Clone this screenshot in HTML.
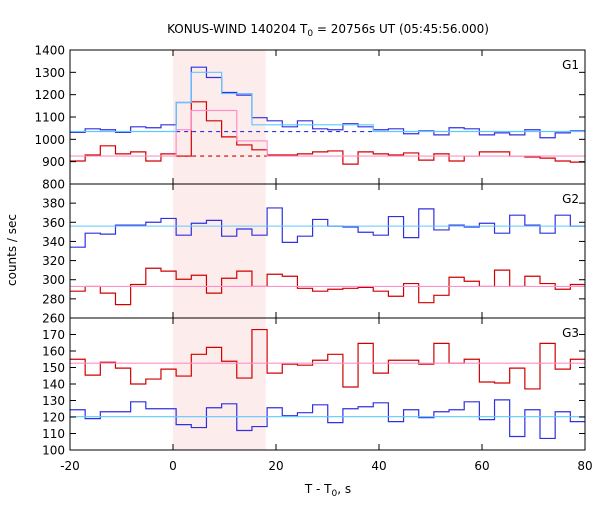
<!DOCTYPE html>
<html><head><meta charset="utf-8"><style>
body{margin:0;background:#fff}
svg{font-family:"DejaVu Sans","Liberation Sans",sans-serif;font-size:12px}
</style></head><body>
<svg id="c" width="600" height="500">
<text x="328" y="33" text-anchor="middle" font-size="12">KONUS-WIND 140204 T<tspan font-size="9" dy="3">0</tspan><tspan dy="-3"> = 20756s UT (05:45:56.000)</tspan></text>
<text transform="translate(16,250) rotate(-90)" text-anchor="middle">counts / sec</text>
<text x="328" y="493" text-anchor="middle">T - T<tspan font-size="9" dy="3">0</tspan><tspan dy="-3">, s</tspan></text>
</svg>
<script>
const binStart=-20, binWidth=2.944;
const g1Blue=[1031,1047,1043,1031,1056,1052,1065,1165,1323,1277,1210,1198,1097,1083,1056,1083,1047,1043,1070,1056,1043,1047,1025,1038,1020,1052,1047,1020,1029,1020,1043,1007,1029,1038];
const g1BlueFit=[1035,1035,1035,1035,1035,1035,1035,1165,1300,1300,1205,1205,1065,1065,1065,1065,1065,1065,1065,1065,1035,1035,1035,1035,1035,1035,1035,1035,1035,1035,1035,1035,1035,1035];
const g1Red=[903,930,971,935,944,903,935,925,1168,1083,1011,975,953,930,930,935,944,948,889,944,935,930,939,907,935,903,925,944,944,925,921,916,903,898];
const g1RedFit=[925,925,925,925,925,925,925,1043,1129,1129,1129,993,993,925,925,925,925,925,925,925,925,925,925,925,925,925,925,925,925,925,925,925,925,925];
const g2Blue=[334,348.6,347.6,357,357,360,364,346.5,359,362,345.5,353,346.5,375,339,345.5,363,356,355,349.6,346.5,366,344,374,352,357,355,359,348.6,367.4,357,348.6,367.4,356];
const g2Red=[288,293,286,274,295,312,309,300.5,304.7,286,301.5,309,293,305.7,303.6,291,288,290,291,292,288,282.7,296,276,283.7,302.6,298.4,293,310,293,303.6,296,290,295];
const g3Red=[155,145.4,153.2,149.6,140,143,149,144.8,158,162.2,153.8,143.6,173,146.6,152,151.4,154.4,158,138.2,164.6,146.6,154.4,154.4,152,164.6,152.6,155,141.2,140.6,149.6,137,164.6,149,155];
const g3Blue=[124.4,119,123.2,123.2,129.2,125,125,115.4,113.6,125.6,128,111.8,114.2,125.6,120.8,122.6,127.4,116.6,125,126.2,128.6,117.2,124.4,119.6,123.2,124.4,129.2,118.4,130.4,108.2,124.4,107,123.2,117.2];
const g2BlueBg=356, g2RedBg=293, g3RedBg=152.6, g3BlueBg=120.2;
const xTicks=[-20,0,20,40,60,80];
const g1Ticks=[800,900,1000,1100,1200,1300,1400];
const g2Ticks=[260,280,300,320,340,360,380];
const g3Ticks=[100,110,120,130,140,150,160,170];
const shadeFrom=0, shadeTo=18;

const svg=document.getElementById('c'), NS='http://www.w3.org/2000/svg';
const L=70,R=585,xmin=-20,xmax=80;
const X=v=>L+(v-xmin)/(xmax-xmin)*(R-L);
function el(t,a,p){const e=document.createElementNS(NS,t);for(const k in a)e.setAttribute(k,a[k]);(p||svg).appendChild(e);return e;}
const panels=[
 {name:'g1',top:50,bot:184,lo:800,hi:1400,ticks:g1Ticks,label:'G1'},
 {name:'g2',top:184,bot:318,lo:260,hi:400,ticks:g2Ticks,label:'G2'},
 {name:'g3',top:318,bot:450,lo:100,hi:180,ticks:g3Ticks,label:'G3'}];
panels.forEach(p=>p.Y=v=>p.bot-(v-p.lo)/(p.hi-p.lo)*(p.bot-p.top));
const sh=el('rect',{x:X(shadeFrom),y:50,width:X(shadeTo)-X(shadeFrom),height:400,fill:'#fdecec'});


function step(p,arr,color,name){
  let d='';arr.forEach((v,i)=>{const x0=X(binStart+i*binWidth),x1=Math.min(R,X(binStart+(i+1)*binWidth)),y=p.Y(v);d+=(i?'L':'M')+x0+','+y+'L'+x1+','+y;});
  const e=el('path',{d:d,fill:'none',stroke:color,'stroke-width':1.2});
  
  
}
function hline(p,v,color,name,x0,x1,dash){
  const e=el('line',{x1:X(x0),x2:X(x1),y1:p.Y(v),y2:p.Y(v),stroke:color,'stroke-width':1.1});
  if(dash)e.setAttribute('stroke-dasharray','4,4');
  
  
}
const [P1,P2,P3]=panels;
hline(P1,1035,'#3030e0','g1-blue-background',binStart+7*binWidth,binStart+20*binWidth,true);
hline(P1,925,'#d00000','g1-red-background',binStart+7*binWidth,binStart+13*binWidth,true);
step(P1,g1Red,'#d00000','g1-red-series');
step(P1,g1RedFit,'#ff90c8','g1-red-model');
step(P1,g1Blue,'#3030e0','g1-blue-series');
step(P1,g1BlueFit,'#60c8ff','g1-blue-model');
step(P2,g2Blue,'#3030e0','g2-blue-series');
step(P2,g2Red,'#d00000','g2-red-series');
hline(P2,g2BlueBg,'#60c8ff','g2-blue-background',xmin,xmax);
hline(P2,g2RedBg,'#ff90c8','g2-red-background',xmin,xmax);
step(P3,g3Red,'#d00000','g3-red-series');
step(P3,g3Blue,'#3030e0','g3-blue-series');
hline(P3,g3RedBg,'#ff90c8','g3-red-background',xmin,xmax);
hline(P3,g3BlueBg,'#60c8ff','g3-blue-background',xmin,xmax);
panels.forEach(p=>{
  const f=el('rect',{x:L,y:p.top,width:R-L,height:p.bot-p.top,fill:'none',stroke:'#000','stroke-width':1});
  
  
  p.ticks.forEach(t=>{
    const y=p.Y(t);
    el('line',{x1:L,x2:L+6,y1:y,y2:y,stroke:'#000'});el('line',{x1:R-6,x2:R,y1:y,y2:y,stroke:'#000'});
    const tx=el('text',{x:L-5,y:y+4.5,'text-anchor':'end'});tx.textContent=t;
    
    
  });
  xTicks.forEach(t=>{el('line',{x1:X(t),x2:X(t),y1:p.top,y2:p.top+6,stroke:'#000'});el('line',{x1:X(t),x2:X(t),y1:p.bot-6,y2:p.bot,stroke:'#000'});});
  const lb=el('text',{x:R-6,y:p.top+19,'text-anchor':'end'});lb.textContent=p.label;
  
  
});
xTicks.forEach(t=>{
  const tx=el('text',{x:X(t),y:470,'text-anchor':'middle'});tx.textContent=t;
  
  
});
</script>
</body></html>
